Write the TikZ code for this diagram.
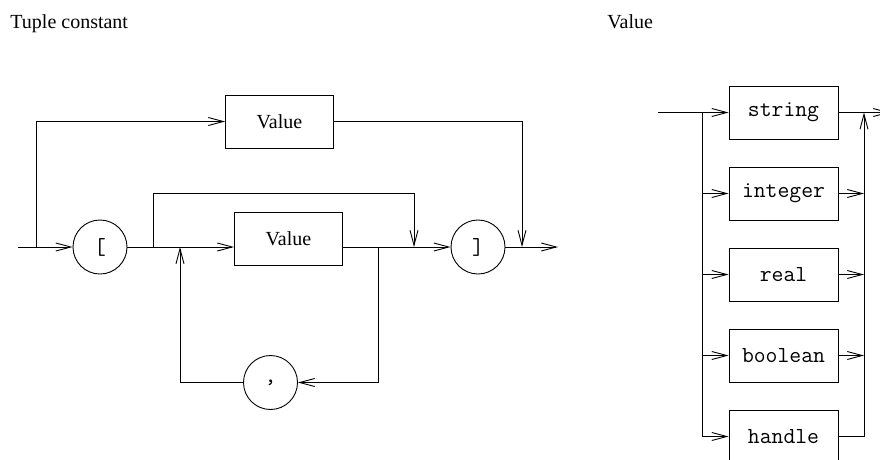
\documentclass[tikz,border=0pt]{standalone}
\usepackage{fontspec}
\setmainfont{Liberation Serif}
\usetikzlibrary{arrows.meta}
\begin{document}
\begin{tikzpicture}[x=1pt,y=-1pt,line width=0.9pt,
  arr/.style={-{Straight Barb[length=15pt,width=8pt,line width=0.9pt]}},
  vbox/.style={draw,rectangle,minimum width=108pt,minimum height=53pt,inner sep=0pt,font=\fontsize{20}{24}\selectfont},
  tbox/.style={draw,rectangle,minimum width=109pt,minimum height=53pt,inner sep=0pt,font=\fontsize{23}{27}\selectfont\ttfamily},
  term/.style={draw,circle,minimum size=54pt,inner sep=0pt,font=\fontsize{23}{27}\selectfont\ttfamily},
  title/.style={anchor=base west,inner sep=0pt,font=\fontsize{20}{24}\selectfont}]
\useasboundingbox (0,0) rectangle (880,459);
% titles
\node[title] (t1) at (10,28) {Tuple constant};
\node[title] (t2) at (607,28) {Value};
% left diagram
\node[vbox] (v1) at (279.5,121.5) {Value};
\node[vbox] (v2) at (288.5,238.5) {Value};
\node[term] (lb) at (100,247) {[};
\node[term] (rb) at (478,247) {]};
\node[term] (cm) at (270.5,382.5) {,};
\coordinate (s1) at (18,247);
\coordinate (b1) at (36,247);
\coordinate (b2) at (153,247);
\coordinate (j1) at (414,193);
\coordinate (t2a) at (414,247);
\coordinate (i1) at (180,247);
\coordinate (o1) at (378,247);
\coordinate (d1) at (522,247);
\coordinate (e1) at (558,247);
\draw[arr] (s1) -- (lb);
\draw[arr] (b1) |- (v1);
\draw[arr] (v1) -| (d1);
\draw[arr] (lb) -- (v2.west |- lb);
\draw[arr] (b2) |- (j1) -- (t2a);
\draw[arr] (v2.east |- lb) -- (rb);
\draw[arr] (o1) |- (cm);
\draw[arr] (cm) -| (i1);
\draw[arr] (rb) -- (e1);
% right diagram
\node[tbox] (str) at (783.5,112.5) {string};
\node[tbox] (int) at (783.5,193.5) {integer};
\node[tbox] (rea) at (783.5,274.5) {real};
\node[tbox] (boo) at (783.5,355.5) {boolean};
\node[tbox] (hdl) at (783.5,436.5) {handle};
\coordinate (s2) at (658,112.5);
\coordinate (bl) at (702,112.5);
\coordinate (br) at (864,112.5);
\coordinate (e2) at (890,112.5);
\draw[arr] (s2) -- (str);
\draw[arr] (bl) |- (hdl);
\draw[arr] (bl |- int) -- (int);
\draw[arr] (bl |- rea) -- (rea);
\draw[arr] (bl |- boo) -- (boo);
\draw[arr] (int) -- (br |- int);
\draw[arr] (rea) -- (br |- rea);
\draw[arr] (boo) -- (br |- boo);
\draw[arr] (hdl) -| (br);
\draw[arr] (str) -- (e2);
\end{tikzpicture}
\end{document}
